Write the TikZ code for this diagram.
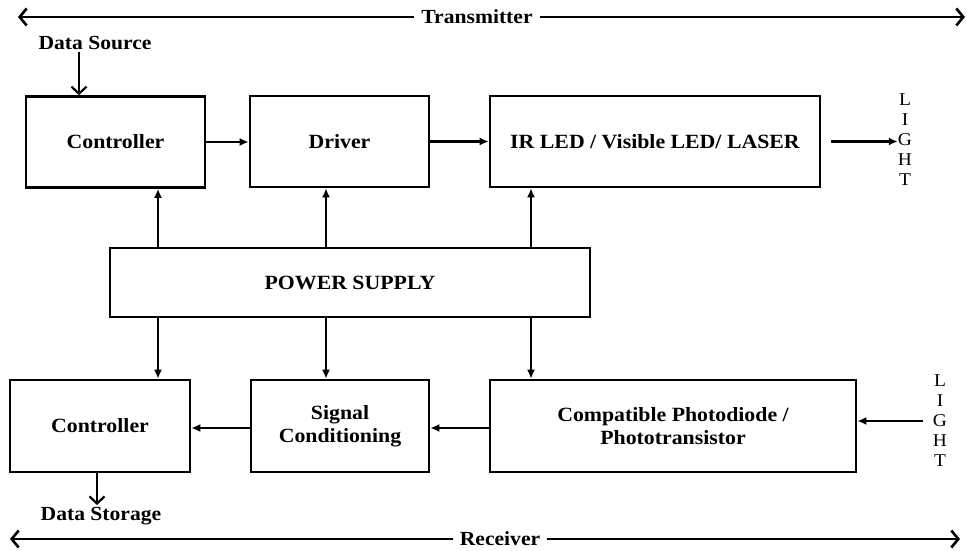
\documentclass[tikz,border=0pt]{standalone}
\usepackage{fontspec}
\setmainfont{Liberation Serif}[FakeStretch=1.08]
\usetikzlibrary{arrows.meta}

\tikzset{
  block/.style={draw, line width=2.6pt, font=\bfseries\fontsize{20.2}{23}\selectfont,
    align=center, inner sep=0pt},
  link/.style={line width=2.2pt, -{Latex[length=9pt,width=8pt]}},
  feed/.style={line width=2.2pt, -{Straight Barb[length=7pt,width=15pt]}},
  extent/.style={line width=2.6pt, -{Straight Barb[length=7pt,width=17pt]}},
  tag/.style={font=\bfseries\fontsize{20}{22}\selectfont, inner sep=2pt},
  light/.style={font=\fontsize{18}{20}\selectfont, align=center, inner sep=0pt}
}

\begin{document}
\begin{tikzpicture}[x=1pt, y=-1pt]
  \useasboundingbox (0,0) rectangle (967,551);

  % transmitter side
  \node[block, minimum width=179pt, minimum height=91pt] (ctrlT) at (115.5,142) {Controller};
  \node[block, minimum width=179pt, minimum height=91pt] (driver) at (339.5,141.5) {Driver};
  \node[block, minimum width=330pt, minimum height=91pt] (emitter) at (655,141.5) {IR LED / Visible LED/ LASER};
  \node[tag] (source) at (95,43) {Data Source};
  \node[light] (lightT) at (905,140) {L\\I\\G\\H\\T};

  % power supply
  \node[block, minimum width=480pt, minimum height=69pt] (power) at (350,282.5) {POWER SUPPLY};

  % receiver side
  \node[block, minimum width=180pt, minimum height=92pt] (ctrlR) at (100,426) {Controller};
  \node[block, minimum width=178pt, minimum height=92pt] (cond) at (340,426) {Signal\\Conditioning};
  \node[block, minimum width=366pt, minimum height=92pt] (detector) at (673,426) {Compatible Photodiode /\\Phototransistor};
  \node[tag] (storage) at (101,516) {Data Storage};
  \node[light] (lightR) at (940,421) {L\\I\\G\\H\\T};

  % extent labels
  \node[tag, inner sep=7pt] (tx) at (477,17) {Transmitter};
  \node[tag, inner sep=7pt] (rx) at (500,539) {Receiver};
  \coordinate (txL) at (18,17);
  \coordinate (txR) at (965,17);
  \coordinate (rxL) at (10,539);
  \coordinate (rxR) at (960,539);

  \draw[extent] (tx.west) -- (txL);
  \draw[extent] (tx.east) -- (txR);
  \draw[extent] (rx.west) -- (rxL);
  \draw[extent] (rx.east) -- (rxR);

  % signal path
  \draw[feed] (source.south -| 79,0) -- (ctrlT.north -| 79,0);
  \draw[link] (ctrlT.east) -- (driver.west |- ctrlT.east);
  \draw[link] (driver.east) -- (emitter.west);
  \draw[link] (emitter.east) ++(10,0) -- (lightT.west |- emitter.east);
  \draw[link] (lightR.west) ++(-10,0) -- (detector.east |- lightR.west);
  \draw[link] (detector.west |- 0,428) -- (cond.east |- 0,428);
  \draw[link] (cond.west |- 0,428) -- (ctrlR.east |- 0,428);
  \draw[feed] (ctrlR.south -| 97,0) -- (storage.north -| 97,0);

  % supply lines
  \foreach \x/\up/\down in {158/ctrlT/ctrlR, 326/driver/cond, 531/emitter/detector} {
    \draw[link] (power.north -| \x,0) -- (\up.south -| \x,0);
    \draw[link] (power.south -| \x,0) -- (\down.north -| \x,0);
  }
\end{tikzpicture}
\end{document}
